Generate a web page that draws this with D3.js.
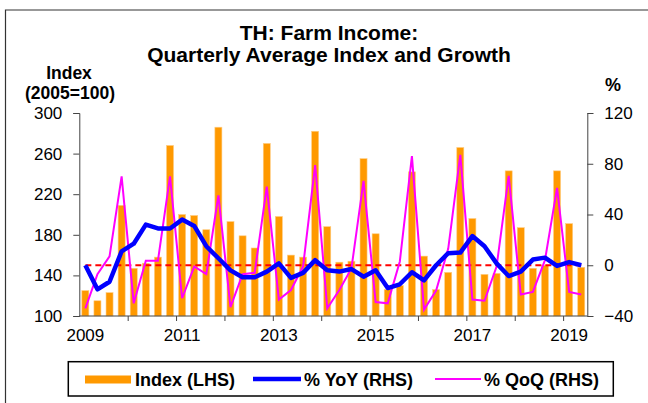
<!DOCTYPE html>
<html>
<head>
<meta charset="utf-8">
<script src="https://cdn.jsdelivr.net/npm/d3@7"></script>
<style>
  body { margin: 0; background: #fff; }
  svg { display: block; font-family: "Liberation Sans", Arial, sans-serif; }
  .axis path, .axis line { stroke: #444; }
  .axis text { font-size: 17px; fill: #000; font-family: "Liberation Sans", Arial, sans-serif; }
</style>
</head>
<body>
<script>
// quarterly data, 2009Q1 .. 2019Q2
var years = ["2009","2010","2011","2012","2013","2014","2015","2016","2017","2018","2019"];
var yearLabels = ["2009","2011","2013","2015","2017","2019"];

var indexLHS = [125,115,123,209,147,152,158,268,200,199,185,286,193,179,167,270,198,160,158,282,188,
                153,154,255,181,126,130,242,159,126,143,266,196,141,142,243,187,147,150,243,191,148];
var yoy = [0,-19,-13,11,17,32,29,29,36,31,15,5.5,-4,-9.5,-9.5,-5,1.5,-10,-6,4,-4,
           -5,-3,-9,-4,-18,-15,-5.5,-12,0,9.5,10,23,15,1.5,-8.5,-5,4.5,6,-0.5,2.5,0];
var qoq = [-34,-7,7,70,-30,3.5,3.5,70,-26,-1,-7,55,-33,-7,-6,62,-27,-19.5,-1,79,-34,
           -19.5,-2.5,66.5,-29,-30,3,86,-35,-20,13,87,-27,-28,-1,70.5,-23,-21,4,61,-21,-23];

var leftTicks = [100,140,180,220,260,300];
var rightTicks = [-40,0,40,80,120];

var quarters = [];
years.forEach(function(y){
  ["Q1","Q2","Q3","Q4"].forEach(function(q){
    if (quarters.length < indexLHS.length) quarters.push(y + q);
  });
});

var W = 648, H = 403;
var plotL = 79.3, plotR = 587.3, plotT = 113, plotB = 316;

var svg = d3.select("body").append("svg").attr("width", W).attr("height", H);

// frame
svg.append("path")
   .attr("d", "M5.5,403 L5.5,10 L648,10")
   .attr("fill", "none").attr("stroke", "#333").attr("stroke-width", 1.2);

var x = d3.scaleBand().domain(quarters).range([plotL, plotR]).paddingInner(0.42).paddingOuter(0.21);
var xq = d3.scaleLinear().domain([0, quarters.length]).range([plotL, plotR]);
var yL = d3.scaleLinear().domain([100, 300]).range([plotB, plotT]);
var yR = d3.scaleLinear().domain([-40, 120]).range([plotB, plotT]);

// bars
svg.append("g").selectAll("rect")
   .data(indexLHS)
   .enter().append("rect")
   .attr("x", function(d, i){ return x(quarters[i]); })
   .attr("y", function(d){ return yL(d); })
   .attr("width", x.bandwidth())
   .attr("height", function(d){ return yL(100) - yL(d); })
   .attr("fill", "#ff9900")
   .attr("stroke", "#ffcc80").attr("stroke-width", 0.6);

var cx = function(d, i){ return x(quarters[i]) + x.bandwidth() / 2; };

// zero line
svg.append("path")
   .attr("d", d3.line().x(cx).y(function(d){ return yR(d); })(quarters.map(function(){ return 0; })))
   .attr("fill", "none").attr("stroke", "#ff0000").attr("stroke-width", 2)
   .attr("stroke-dasharray", "6,4");

svg.append("path")
   .attr("d", d3.line().x(cx).y(function(d){ return yR(d); })(qoq))
   .attr("fill", "none").attr("stroke", "#ff00ff").attr("stroke-width", 2);

svg.append("path")
   .attr("d", d3.line().x(cx).y(function(d){ return yR(d); })(yoy))
   .attr("fill", "none").attr("stroke", "#0000ff").attr("stroke-width", 4.5)
   .attr("stroke-linejoin", "round");

// axes
svg.append("g").attr("class", "axis")
   .attr("transform", "translate(" + plotL + ",0)")
   .call(d3.axisLeft(yL).tickValues(leftTicks).tickSize(6).tickPadding(11));

svg.append("g").attr("class", "axis")
   .attr("transform", "translate(" + plotR + ",0)")
   .call(d3.axisRight(yR).tickValues(rightTicks).tickSize(6).tickPadding(11));

var yearTicks = d3.range(4, quarters.length, 4);
svg.append("g").attr("class", "axis")
   .attr("transform", "translate(0," + plotB + ")")
   .call(d3.axisBottom(xq).tickValues(yearTicks).tickSize(5).tickFormat(""))
   .select(".domain").remove();

svg.append("g").attr("class", "axis")
   .attr("transform", "translate(0," + plotB + ")")
   .call(d3.axisBottom(x).tickValues(yearLabels.map(function(y){ return y + "Q1"; }))
         .tickSize(0).tickPadding(13).tickFormat(function(d){ return d.slice(0, 4); }))
   .select(".domain").attr("d", "M" + plotL + ",0H" + plotR);

// titles
svg.append("text").attr("x", 329).attr("y", 40).attr("text-anchor", "middle")
   .style("font-size", "21px").style("font-weight", "bold").text("TH: Farm Income:");
svg.append("text").attr("x", 329).attr("y", 62).attr("text-anchor", "middle")
   .style("font-size", "21px").style("font-weight", "bold").text("Quarterly Average Index and Growth");
svg.append("text").attr("x", 69).attr("y", 79).attr("text-anchor", "middle")
   .style("font-size", "17.5px").style("font-weight", "bold").text("Index");
svg.append("text").attr("x", 70).attr("y", 98.5).attr("text-anchor", "middle")
   .style("font-size", "17.5px").style("font-weight", "bold").text("(2005=100)");
svg.append("text").attr("x", 613).attr("y", 91).attr("text-anchor", "middle")
   .style("font-size", "18px").style("font-weight", "bold").text("%");

// legend
var lg = svg.append("g");
lg.append("rect").attr("x", 68.3).attr("y", 361.7).attr("width", 545).attr("height", 34.3)
  .attr("fill", "#fff").attr("stroke", "#000").attr("stroke-width", 1.5);
lg.append("rect").attr("x", 85).attr("y", 375.5).attr("width", 46).attr("height", 8).attr("fill", "#ff9900");
lg.append("line").attr("x1", 253).attr("x2", 301).attr("y1", 379).attr("y2", 379)
  .attr("stroke", "#0000ff").attr("stroke-width", 4.5);
lg.append("line").attr("x1", 435).attr("x2", 481).attr("y1", 379).attr("y2", 379)
  .attr("stroke", "#ff00ff").attr("stroke-width", 2);
var legendText = [["Index (LHS)", 135], ["% YoY (RHS)", 304], ["% QoQ (RHS)", 484]];
lg.selectAll("text.lt").data(legendText).enter().append("text")
  .attr("class", "lt")
  .attr("x", function(d){ return d[1]; }).attr("y", 385.5)
  .style("font-size", "18px").style("font-weight", "bold")
  .text(function(d){ return d[0]; });
</script>
</body>
</html>
